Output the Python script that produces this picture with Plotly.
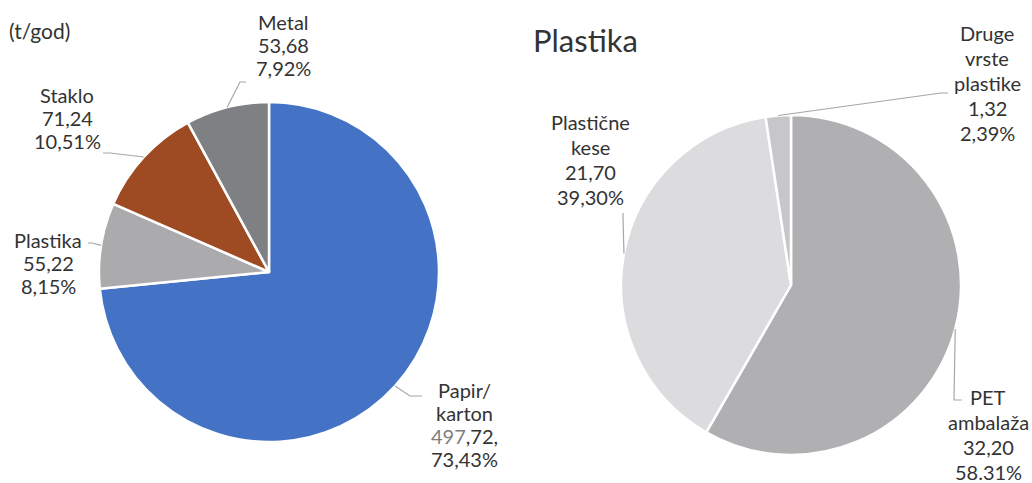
import math
import plotly.graph_objects as go

# ---------------- data ----------------
left_labels = ["Papir/karton", "Plastika", "Staklo", "Metal"]
left_values = [497.72, 55.22, 71.24, 53.68]
left_lines = [
    ["Papir/", "karton", "<span style='color:#7f7f7f'>497</span>,72,", "73,43%"],
    ["Plastika", "55,22", "8,15%"],
    ["Staklo", "71,24", "10,51%"],
    ["Metal", "53,68", "7,92%"],
]
left_colors = ["#4472C4", "#ABABAD", "#9E4A22", "#7F8083"]

right_labels = ["PET ambalaža", "Plastične kese", "Druge vrste plastike"]
right_values = [32.20, 21.70, 1.32]
right_lines = [
    ["PET", "ambalaža", "32,20", "58.31%"],
    ["Plastične", "kese", "21,70", "39,30%"],
    ["Druge", "vrste", "plastike", "1,32", "2,39%"],
]
right_colors = ["#B0B0B2", "#DCDCDE", "#C7C7C9"]

unit_label = "(t/god)"
right_title = "Plastika"

# ---------------- layout geometry (pixels) ----------------
W, H = 1032, 483
L_CX, L_CY, L_R = 269, 272, 170
R_CX, R_CY, R_R = 791, 285, 170

FONT = "Lato"
TXT = "#333333"
LINE = "#A6A6A6"


def px(x):
    return x / W


def py(y):
    return 1 - y / H


def domain(cx, cy, r):
    return dict(x=[px(cx - r), px(cx + r)], y=[py(cy + r), py(cy - r)])


def mid_edge(values, i, cx, cy, r):
    tot = sum(values)
    start = sum(values[:i]) / tot
    mid = (start + values[i] / tot / 2) * 2 * math.pi
    return cx + r * math.sin(mid), cy - r * math.cos(mid)


fig = go.Figure()
fig.add_trace(go.Pie(
    labels=left_labels, values=left_values, sort=False, direction="clockwise",
    rotation=0, textinfo="none", hoverinfo="label+value+percent",
    marker=dict(colors=left_colors, line=dict(color="white", width=2.5)),
    domain=domain(L_CX, L_CY, L_R), showlegend=False,
))
fig.add_trace(go.Pie(
    labels=right_labels, values=right_values, sort=False, direction="clockwise",
    rotation=0, textinfo="none", hoverinfo="label+value+percent",
    marker=dict(colors=right_colors, line=dict(color="white", width=2.5)),
    domain=domain(R_CX, R_CY, R_R), showlegend=False,
))

# label placement: (text centre x, first-line centre y, leader points from label side)
left_place = [
    (464, 390, [(422, 396), (410, 396)]),
    (48, 240, [(88, 243), (92, 243)]),
    (67, 95, [(103, 153), (110, 153)]),
    (283, 22, [(246, 82), (240, 82)]),
]
right_place = [
    (988, 397, [(962, 400), (954, 400)]),
    (590, 122, [(623, 213), (623, 216)]),
    (987, 33, [(948, 93), (941, 93)]),
]

annotations = []
shapes = []


def add_labels(values, lines, place, cx, cy, r, size, spacing):
    for i, (tx, ty, pts) in enumerate(place):
        for k, line in enumerate(lines[i]):
            annotations.append(dict(
                x=px(tx), y=py(ty + k * spacing), xref="paper", yref="paper",
                text=line, showarrow=False, xanchor="center", yanchor="middle",
                font=dict(family=FONT, size=size, color=TXT),
            ))
        ex, ey = mid_edge(values, i, cx, cy, r)
        allpts = pts + [(ex, ey)]
        path = "M " + " L ".join(f"{px(a):.5f},{py(b):.5f}" for a, b in allpts)
        shapes.append(dict(type="path", path=path, xref="paper", yref="paper",
                           line=dict(color=LINE, width=1.2)))


add_labels(left_values, left_lines, left_place, L_CX, L_CY, L_R, 20, 23)
add_labels(right_values, right_lines, right_place, R_CX, R_CY, R_R, 20, 25)

annotations.append(dict(x=px(7), y=py(30), xref="paper", yref="paper",
                        text=unit_label, showarrow=False, xanchor="left",
                        yanchor="middle",
                        font=dict(family=FONT, size=21, color=TXT)))
annotations.append(dict(x=px(531), y=py(40), xref="paper", yref="paper",
                        text=right_title, showarrow=False, xanchor="left",
                        yanchor="middle",
                        font=dict(family=FONT, size=31, color=TXT)))

fig.update_layout(
    width=W, height=H, margin=dict(l=0, r=0, t=0, b=0),
    paper_bgcolor="white", plot_bgcolor="white",
    annotations=annotations, shapes=shapes,
)
fig.write_html(
    "out.html",
    config={"displayModeBar": False},
    post_script="document.body.style.margin='0';document.body.style.overflow='hidden';",
)
